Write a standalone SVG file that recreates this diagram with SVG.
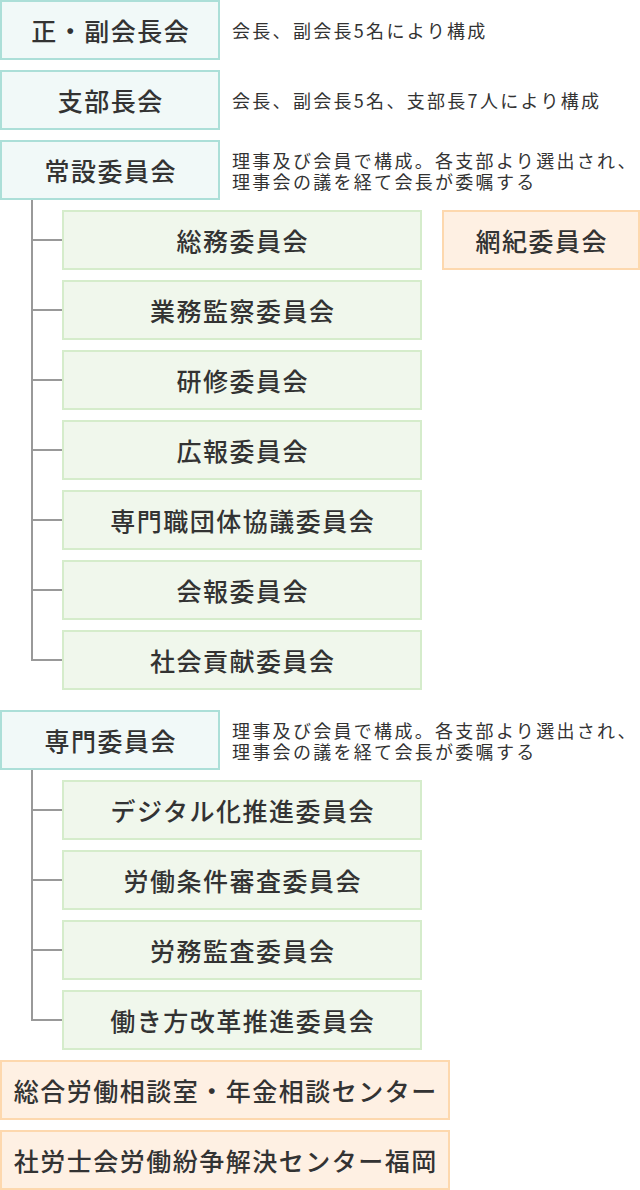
<svg xmlns="http://www.w3.org/2000/svg" width="640" height="1190" viewBox="0 0 640 1190">
<style>
.t{font-family:"Noto Sans CJK JP","Noto Sans",sans-serif;font-size:25px;font-weight:500;letter-spacing:1.5px;fill:#333;text-anchor:middle;dominant-baseline:central}
.d{font-family:"Noto Sans CJK JP","Noto Sans",sans-serif;font-size:18px;letter-spacing:2.3px;fill:#333;dominant-baseline:central}
.teal{fill:#f1f9f8;stroke:#acdfd8;stroke-width:2}
.green{fill:#f0f7ec;stroke:#d5eccb;stroke-width:2}
.orange{fill:#fef0e3;stroke:#fdd8ae;stroke-width:2}
.c{fill:none;stroke:#999;stroke-width:2}
</style>
<rect width="640" height="1190" fill="#fff"/>
<g id="connectors">
<path class="c" d="M32 200V660H62M32 240H62M32 310H62M32 380H62M32 450H62M32 520H62M32 590H62"/>
<path class="c" d="M32 770V1020H62M32 810H62M32 880H62M32 950H62"/>
</g>
<g id="n1"><rect class="teal" x="1" y="1" width="218" height="58"/><text class="t" x="110.8" y="30">正・副会長会</text>
<text class="d" x="232" y="30">会長、副会長5名により構成</text></g>
<g id="n2"><rect class="teal" x="1" y="71" width="218" height="58"/><text class="t" x="110.8" y="100">支部長会</text>
<text class="d" x="232" y="100">会長、副会長5名、支部長7人により構成</text></g>
<g id="n3"><rect class="teal" x="1" y="141" width="218" height="58"/><text class="t" x="110.8" y="170">常設委員会</text>
<text class="d"><tspan x="232" y="159.5">理事及び会員で構成。各支部より選出され、</tspan><tspan x="232" y="181">理事会の議を経て会長が委嘱する</tspan></text></g>
<g id="n4"><rect class="green" x="63" y="211" width="358" height="58"/><text class="t" x="242.8" y="240">総務委員会</text></g>
<g id="n5"><rect class="orange" x="443" y="211" width="196" height="58"/><text class="t" x="541.8" y="240">網紀委員会</text></g>
<g id="n6"><rect class="green" x="63" y="281" width="358" height="58"/><text class="t" x="242.8" y="310">業務監察委員会</text></g>
<g id="n7"><rect class="green" x="63" y="351" width="358" height="58"/><text class="t" x="242.8" y="380">研修委員会</text></g>
<g id="n8"><rect class="green" x="63" y="421" width="358" height="58"/><text class="t" x="242.8" y="450">広報委員会</text></g>
<g id="n9"><rect class="green" x="63" y="491" width="358" height="58"/><text class="t" x="242.8" y="520">専門職団体協議委員会</text></g>
<g id="n10"><rect class="green" x="63" y="561" width="358" height="58"/><text class="t" x="242.8" y="590">会報委員会</text></g>
<g id="n11"><rect class="green" x="63" y="631" width="358" height="58"/><text class="t" x="242.8" y="660">社会貢献委員会</text></g>
<g id="n12"><rect class="teal" x="1" y="711" width="218" height="58"/><text class="t" x="110.8" y="740">専門委員会</text>
<text class="d"><tspan x="232" y="729.5">理事及び会員で構成。各支部より選出され、</tspan><tspan x="232" y="751">理事会の議を経て会長が委嘱する</tspan></text></g>
<g id="n13"><rect class="green" x="63" y="781" width="358" height="58"/><text class="t" x="242.8" y="810">デジタル化推進委員会</text></g>
<g id="n14"><rect class="green" x="63" y="851" width="358" height="58"/><text class="t" x="242.8" y="880">労働条件審査委員会</text></g>
<g id="n15"><rect class="green" x="63" y="921" width="358" height="58"/><text class="t" x="242.8" y="950">労務監査委員会</text></g>
<g id="n16"><rect class="green" x="63" y="991" width="358" height="58"/><text class="t" x="242.8" y="1020">働き方改革推進委員会</text></g>
<g id="n17"><rect class="orange" x="1" y="1061" width="448" height="58"/><text class="t" x="225.8" y="1090">総合労働相談室・年金相談センター</text></g>
<g id="n18"><rect class="orange" x="1" y="1131" width="448" height="58"/><text class="t" x="225.8" y="1160">社労士会労働紛争解決センター福岡</text></g>
</svg>
